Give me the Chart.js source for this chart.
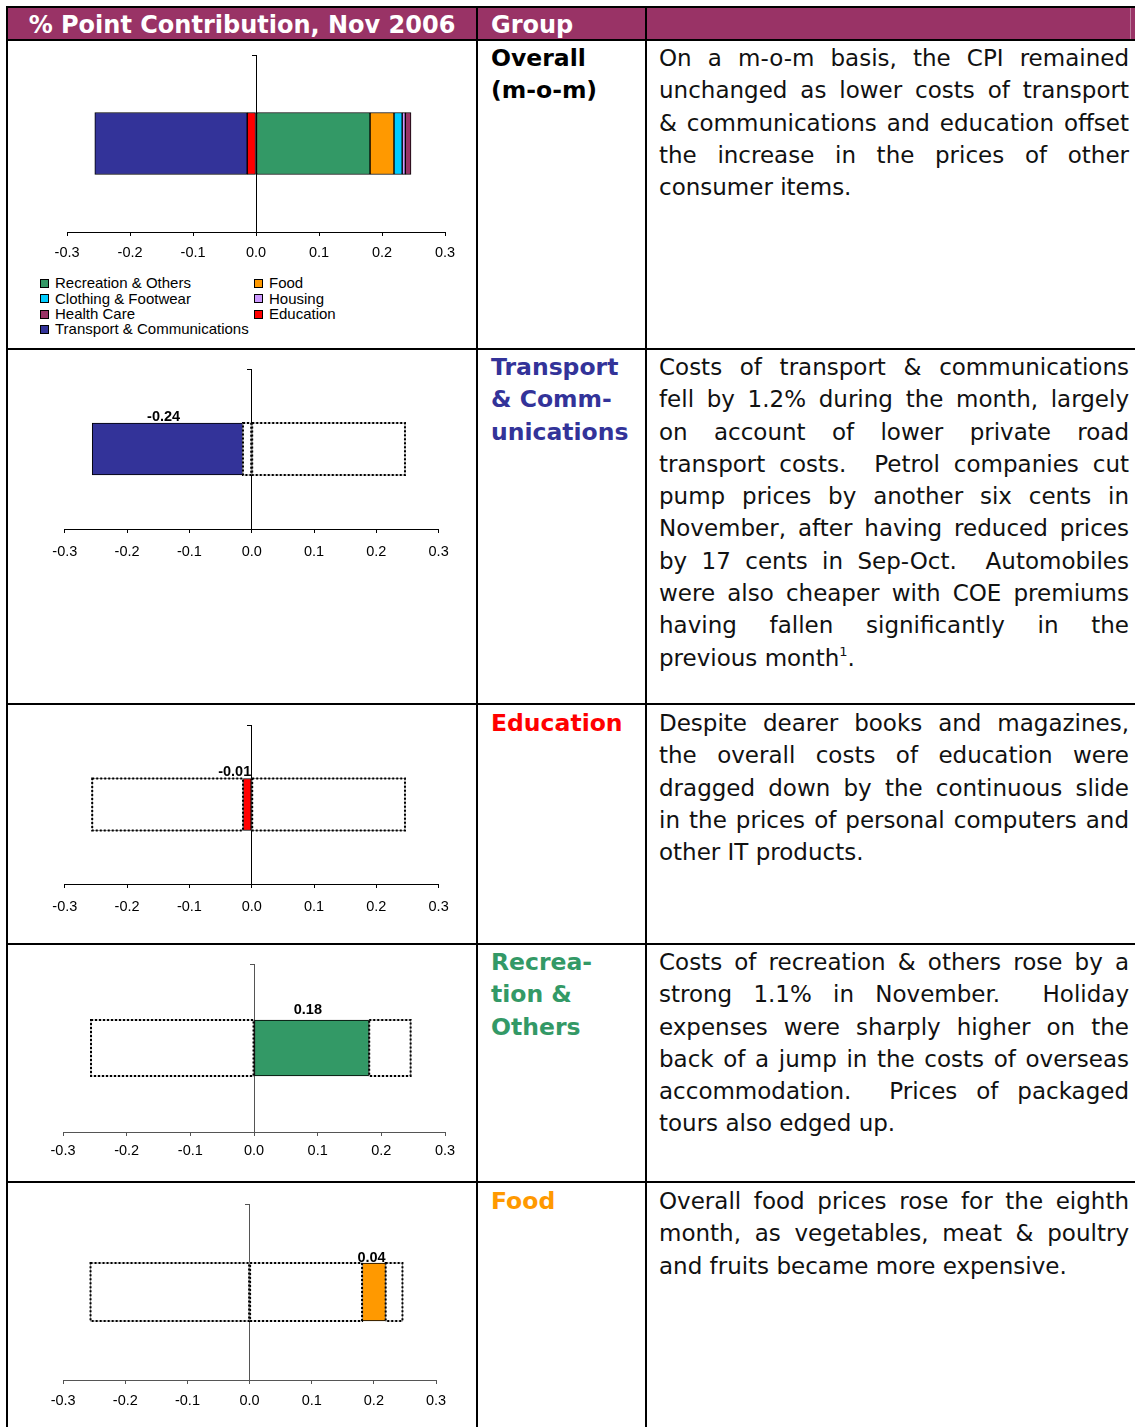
<!DOCTYPE html>
<html>
<head>
<meta charset="utf-8">
<title>% Point Contribution, Nov 2006</title>
<script src="https://cdn.jsdelivr.net/npm/chart.js@4.4.1/dist/chart.umd.min.js"></script>
<style>
  html, body { margin: 0; padding: 0; background: #fff; }
  #page { position: relative; width: 1135px; height: 1427px; overflow: hidden; background: #fff; }
  .rule { position: absolute; background: #000; }
  .head { position: absolute; top: 11px; height: 31px; line-height: 31px; color: #fff;
          font: bold 24px "DejaVu Sans", sans-serif; white-space: nowrap; }
  .group { position: absolute; left: 491px; font: bold 23.5px "DejaVu Sans", sans-serif;
           line-height: 32.3px; white-space: nowrap; }
  .para { position: absolute; left: 659px; width: 470px; font: 23px "DejaVu Sans", sans-serif;
          line-height: 32.3px; color: #111; }
  .para div { text-align: justify; text-align-last: justify; }
  .para div.end { text-align: left; text-align-last: left; }
  .sup { font-size: 13px; position: relative; top: -10px; }
  #legend { position: absolute; left: 40px; top: 275.3px; font: 15px "Liberation Sans", Arial, sans-serif;
            color: #000; }
  #legend .item { position: absolute; height: 15.4px; line-height: 15.4px; white-space: nowrap; }
  #legend .box { position: absolute; left: 0; top: 3.5px; width: 7px; height: 7px; border: 1px solid #000; }
  #legend .txt { position: absolute; left: 15px; top: 0; }
  canvas { position: absolute; }
</style>
</head>
<body>
<div id="page">
  <!-- header band -->
  <div style="position:absolute;left:8px;top:8px;width:1127px;height:31px;background:#993366"></div>
  <div style="position:absolute;left:1130px;top:8px;width:1px;height:31px;background:rgba(255,255,255,0.35)"></div>
  <div class="head" style="left:8px;width:468px;text-align:center">% Point Contribution, Nov 2006</div>
  <div class="head" style="left:491px">Group</div>

  <!-- table rules -->
  <div class="rule" style="left:6px;top:6px;width:1129px;height:2px"></div>
  <div class="rule" style="left:6px;top:39px;width:1129px;height:2px"></div>
  <div class="rule" style="left:6px;top:348px;width:1129px;height:2px"></div>
  <div class="rule" style="left:6px;top:703px;width:1129px;height:2px"></div>
  <div class="rule" style="left:6px;top:943px;width:1129px;height:2px"></div>
  <div class="rule" style="left:6px;top:1181px;width:1129px;height:2px"></div>
  <div class="rule" style="left:6px;top:6px;width:2px;height:1421px"></div>
  <div class="rule" style="left:476px;top:6px;width:2px;height:1421px"></div>
  <div class="rule" style="left:645px;top:6px;width:2px;height:1421px"></div>

  <!-- group names -->
  <div class="group" style="top:42px;color:#000">Overall<br>(m-o-m)</div>
  <div class="group" style="top:351px;color:#333399">Transport<br>&amp; Comm-<br>unications</div>
  <div class="group" style="top:707px;color:#FF0000">Education</div>
  <div class="group" style="top:946px;color:#339966">Recrea-<br>tion &amp;<br>Others</div>
  <div class="group" style="top:1185px;color:#FF9900">Food</div>

  <!-- commentary -->
  <div class="para" style="top:42px">
    <div>On a m-o-m basis, the CPI remained</div>
    <div>unchanged as lower costs of transport</div>
    <div>&amp; communications and education offset</div>
    <div>the increase in the prices of other</div>
    <div class="end">consumer items.</div>
  </div>
  <div class="para" style="top:351px">
    <div>Costs of transport &amp; communications</div>
    <div>fell by 1.2% during the month, largely</div>
    <div>on account of lower private road</div>
    <div>transport costs.&nbsp; Petrol companies cut</div>
    <div>pump prices by another six cents in</div>
    <div>November, after having reduced prices</div>
    <div>by 17 cents in Sep-Oct.&nbsp; Automobiles</div>
    <div>were also cheaper with COE premiums</div>
    <div>having fallen significantly in the</div>
    <div class="end">previous month<span class="sup">1</span>.</div>
  </div>
  <div class="para" style="top:707px">
    <div>Despite dearer books and magazines,</div>
    <div>the overall costs of education were</div>
    <div>dragged down by the continuous slide</div>
    <div>in the prices of personal computers and</div>
    <div class="end">other IT products.</div>
  </div>
  <div class="para" style="top:946px">
    <div>Costs of recreation &amp; others rose by a</div>
    <div>strong 1.1% in November.&nbsp; Holiday</div>
    <div>expenses were sharply higher on the</div>
    <div>back of a jump in the costs of overseas</div>
    <div>accommodation.&nbsp; Prices of packaged</div>
    <div class="end">tours also edged up.</div>
  </div>
  <div class="para" style="top:1185px">
    <div>Overall food prices rose for the eighth</div>
    <div>month, as vegetables, meat &amp; poultry</div>
    <div class="end">and fruits became more expensive.</div>
  </div>

  <div id="legend"></div>
</div>

<script>
// CPI groups and their m-o-m contributions (% points), Nov 2006
const categories = ['Recreation & Others', 'Food', 'Clothing & Footwear', 'Housing',
                    'Health Care', 'Education', 'Transport & Communications'];
const contributions = [0.181, 0.038, 0.013, 0.005, 0.009, -0.014, -0.242];
const groupColors = ['#339966', '#FF9900', '#00CCFF', '#CC99FF', '#993366', '#FF0000', '#333399'];
const periodLabels = ['Nov 2006'];

// value axis
const tickValues = [-0.3, -0.2, -0.1, 0.0, 0.1, 0.2, 0.3];
const tickLabels = ['-0.3', '-0.2', '-0.1', '0.0', '0.1', '0.2', '0.3'];

Chart.defaults.font.family = '"Liberation Sans", Arial, sans-serif';
Chart.defaults.font.size = 14.5;
Chart.defaults.color = '#000';

const page = document.getElementById('page');

// white boxes with a dotted outline for the groups that are not in focus
const outlinePlugin = {
  id: 'dottedOutline',
  afterDatasetsDraw(chart) {
    const ctx = chart.ctx;
    chart.data.datasets.forEach((ds, i) => {
      if (!ds.dotted) return;
      const el = chart.getDatasetMeta(i).data[0];
      const p = el.getProps(['x', 'base', 'y', 'height'], true);
      const l = Math.min(p.x, p.base), r = Math.max(p.x, p.base);
      const t = p.y - p.height / 2, b = p.y + p.height / 2;
      ctx.save();
      ctx.strokeStyle = '#9a9a9a';
      ctx.lineWidth = 1;
      ctx.strokeRect(l, t, r - l, b - t);
      ctx.strokeStyle = '#000';
      ctx.lineWidth = 2;
      ctx.setLineDash([2, 2]);
      ctx.strokeRect(l, t, r - l, b - t);
      ctx.restore();
    });
  }
};

// bold value above the group in focus
const valuePlugin = {
  id: 'valueLabel',
  afterDatasetsDraw(chart) {
    const ctx = chart.ctx;
    chart.data.datasets.forEach((ds, i) => {
      if (!ds.showValue) return;
      const el = chart.getDatasetMeta(i).data[0];
      const p = el.getProps(['x', 'base', 'y', 'height'], true);
      const text = ds.data[0].toFixed(2);
      ctx.save();
      ctx.font = 'bold 14.5px "Liberation Sans", Arial, sans-serif';
      ctx.fillStyle = '#000';
      ctx.textBaseline = 'alphabetic';
      const lo = Math.min(p.x, p.base), hi = Math.max(p.x, p.base);
      const tw = ctx.measureText(text).width;
      let cx;
      if (tw > hi - lo) { ctx.textAlign = 'right'; cx = hi; }
      else { ctx.textAlign = 'center'; cx = (lo + hi) / 2 - 4; }
      ctx.fillText(text, cx, p.y - p.height / 2 - ds.labelLift);
      ctx.restore();
    });
  }
};

function mountChart(panel, datasets) {
  const padX = 20, padT = 4, axisH = 36;
  const a = panel.area;
  const w = a.r - a.l + 2 * padX;
  const h = a.b - a.t + padT + axisH;
  const cv = document.createElement('canvas');
  cv.width = w; cv.height = h;
  cv.style.left = (a.l - padX) + 'px';
  cv.style.top = (a.t - padT) + 'px';
  cv.style.width = w + 'px';
  cv.style.height = h + 'px';
  page.appendChild(cv);

  return new Chart(cv, {
    type: 'bar',
    data: { labels: periodLabels, datasets },
    options: {
      indexAxis: 'y',
      responsive: false,
      animation: false,
      devicePixelRatio: 1,
      events: [],
      layout: { padding: { left: padX, right: padX, top: padT, bottom: 0 } },
      plugins: { legend: { display: false }, tooltip: { enabled: false } },
      datasets: { bar: { barThickness: panel.bar, borderSkipped: false } },
      scales: {
        x: {
          type: 'linear', stacked: true, min: -0.3, max: 0.3,
          afterBuildTicks: s => { s.ticks = tickValues.map(v => ({ value: v })); },
          afterFit: s => { s.height = axisH; },
          grid: { drawOnChartArea: false, drawTicks: true, tickLength: 4, color: panel.axis, lineWidth: 1 },
          border: { display: true, color: panel.axis, width: 1 },
          ticks: { padding: panel.gap - 4 - 8.7, color: '#000', maxRotation: 0, autoSkip: false,
                   callback: (v, i) => tickLabels[i] }
        },
        y: {
          type: 'category', stacked: true, position: { x: 0 },
          afterFit: s => { s.width = 0; },
          grid: { drawOnChartArea: false, drawTicks: true, tickLength: 4, offset: true, color: panel.axis },
          border: { display: true, color: panel.axis, width: 1 },
          ticks: { display: false }
        }
      }
    },
    plugins: [outlinePlugin, valuePlugin]
  });
}

// overall panel: every group stacked
const overallPanel = { area: { l: 66, t: 55, r: 445, b: 232 }, bar: 62, axis: '#000', gap: 21.3 };
const overallSets = categories.map((c, i) => ({
  label: c,
  data: [contributions[i]],
  backgroundColor: groupColors[i],
  borderColor: '#000',
  borderWidth: 1
}));
mountChart(overallPanel, overallSets);

// legend, two columns in reading order
const legend = document.getElementById('legend');
categories.forEach((c, i) => {
  const item = document.createElement('div');
  item.className = 'item';
  item.style.left = (i % 2 === 0 ? 0 : 214) + 'px';
  item.style.top = (Math.floor(i / 2) * 15.4) + 'px';
  item.innerHTML = '<span class="box" style="background:' + groupColors[i] + '"></span>' +
                   '<span class="txt"></span>';
  item.querySelector('.txt').textContent = c;
  legend.appendChild(item);
});

// detail panels: one group in colour, neighbouring groups merged into dotted boxes
const detailPanels = [
  { key: 'Transport & Communications', area: { l: 62, t: 369, r: 439, b: 529 },  bar: 52, axis: '#000', gap: 23,   lift: 2 },
  { key: 'Education',                  area: { l: 62, t: 725, r: 439, b: 884 },  bar: 52, axis: '#000', gap: 23,   lift: 3 },
  { key: 'Recreation & Others',        area: { l: 63, t: 964, r: 445, b: 1132 }, bar: 56, axis: '#555', gap: 19,   lift: 6 },
  { key: 'Food',                       area: { l: 62, t: 1204, r: 436, b: 1380 }, bar: 58, axis: '#555', gap: 21.4, lift: 1.5 }
];

function detailSets(panel) {
  const sets = [];
  [1, -1].forEach(sign => {
    let rest = 0;
    categories.forEach((c, i) => {
      const v = contributions[i];
      if (Math.sign(v) !== sign) return;
      if (c === panel.key) {
        if (rest !== 0) sets.push({ label: 'other', data: [rest], backgroundColor: '#fff', borderWidth: 0, dotted: true });
        rest = 0;
        sets.push({ label: c, data: [v], backgroundColor: groupColors[i], borderColor: '#000',
                    borderWidth: 1, showValue: true, labelLift: panel.lift });
      } else {
        rest += v;
      }
    });
    if (rest !== 0) sets.push({ label: 'other', data: [rest], backgroundColor: '#fff', borderWidth: 0, dotted: true });
  });
  return sets;
}

detailPanels.forEach(p => mountChart(p, detailSets(p)));
</script>
</body>
</html>
